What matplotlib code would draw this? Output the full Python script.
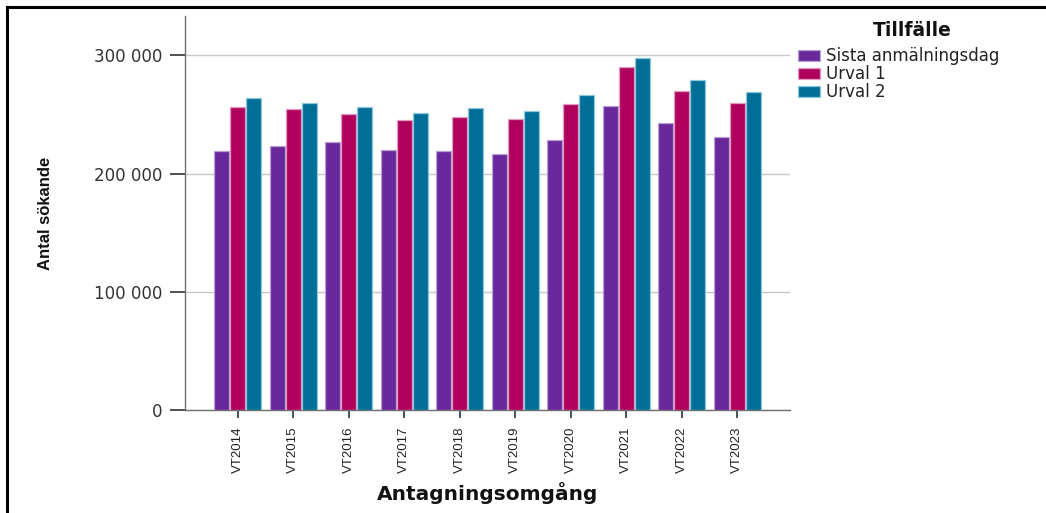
import matplotlib
matplotlib.use("Agg")
import matplotlib.pyplot as plt
import numpy as np
from matplotlib.lines import Line2D

# Data
omgangar = ["VT2014", "VT2015", "VT2016", "VT2017", "VT2018",
            "VT2019", "VT2020", "VT2021", "VT2022", "VT2023"]
sista_anmalningsdag = [219400, 223100, 226500, 219700, 219200,
                       216900, 228700, 257200, 242500, 230700]
urval_1 = [256300, 254400, 250400, 245300, 248200,
           246500, 258900, 289900, 270100, 259400]
urval_2 = [263900, 260000, 256600, 251500, 255200,
           253200, 266500, 298000, 279400, 269300]

serier = ["Sista anmälningsdag", "Urval 1", "Urval 2"]
farger = ["#68289C", "#B0005E", "#006E96"]
kanter = ["#B9A0D2", "#E39BC0", "#8CC8DC"]

W, H = 1046, 513
fig = plt.figure(figsize=(W / 100, H / 100), dpi=100)
ax = fig.add_axes([185 / W, 1 - 410 / H, 605 / W, 394 / H])

narrow = ["Liberation Sans", "DejaVu Sans"]
wide = ["DejaVu Sans"]

x = np.arange(len(omgangar))
bw = 0.275
offs = [-0.29, 0.0, 0.29]
for vals, off, c, ec, namn in zip([sista_anmalningsdag, urval_1, urval_2], offs, farger, kanter, serier):
    ax.bar(x + off, vals, width=bw, color=c, edgecolor=ec, linewidth=0.9, label=namn, zorder=3)

ax.set_xlim(-0.95, len(omgangar) - 1 + 0.95)
ax.set_ylim(0, 333300)
ax.set_yticks([0, 100000, 200000, 300000])
ax.set_yticklabels(["0", "100 000", "200 000", "300 000"], family=wide, fontsize=12, color="#333333")
ax.set_xticks(x)
ax.set_xticklabels(omgangar, rotation=90, family=narrow, fontsize=9.5, color="#222222")

ax.yaxis.grid(True, color="#C8C8C8", linewidth=1.0, zorder=0)
ax.set_axisbelow(True)
for s in ["top", "right"]:
    ax.spines[s].set_visible(False)
for s in ["left", "bottom"]:
    ax.spines[s].set_color("#707070")
    ax.spines[s].set_linewidth(1.0)
ax.tick_params(axis="y", length=11, width=1.2, color="#333333", pad=5)
ax.tick_params(axis="x", length=6, width=1.2, color="#333333", pad=6)

ax.set_ylabel("Antal sökande", family=narrow, fontsize=12, fontweight="bold", color="#111111")
ax.yaxis.set_label_coords(-0.218, 0.5)
ax.set_xlabel("Antagningsomgång", family=wide, fontsize=14.5, fontweight="bold", color="#111111")
ax.xaxis.set_label_coords(0.5, -0.183)

fig.text(912 / W, 1 - 31 / H, "Tillfälle", family=wide, fontsize=13.5, fontweight="bold",
         ha="center", va="center", color="#111111")
leg = fig.legend(loc="upper left", bbox_to_anchor=(795 / W, 1 - 44 / H), frameon=False,
                 prop={"family": wide, "size": 12},
                 handlelength=1.3, handleheight=0.7, handletextpad=0.35,
                 labelspacing=0.0, borderaxespad=0, borderpad=0.2)
for t in leg.get_texts():
    t.set_color("#222222")

# ram (vänster och övre kant)
fig.add_artist(Line2D([6.5 / W, 6.5 / W], [0, 1 - 7 / H], color="black", linewidth=2.2))
fig.add_artist(Line2D([6.5 / W, 1], [1 - 7 / H, 1 - 7 / H], color="black", linewidth=2.2))

fig.savefig("out.png", dpi=100)
